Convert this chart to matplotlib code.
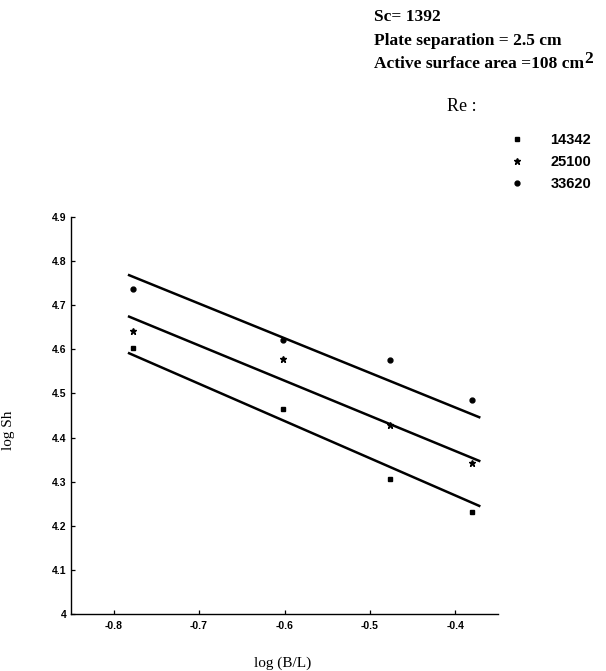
#!/usr/bin/env python

import numpy as np
import matplotlib.pyplot as plt

# log(B/L) positions of the measurements
log_bl = [-0.778, -0.602, -0.477, -0.380]

# log Sh for each Reynolds number
re_labels = ['14342', '25100', '33620']
sh_14342 = [4.602, 4.464, 4.305, 4.232]
sh_25100 = [4.642, 4.577, 4.429, 4.343]
sh_33620 = [4.736, 4.620, 4.575, 4.486]

# fitted lines (end points)
fit_x = [-0.782, -0.372]
fit_14342 = [4.591, 4.245]
fit_25100 = [4.674, 4.347]
fit_33620 = [4.768, 4.446]

x_ticks = [-0.8, -0.7, -0.6, -0.5, -0.4]
y_ticks = [4.0, 4.1, 4.2, 4.3, 4.4, 4.5, 4.6, 4.7, 4.8, 4.9]
y_tick_labels = ['4', '4.1', '4.2', '4.3', '4.4', '4.5', '4.6', '4.7', '4.8', '4.9']

serif = 'Liberation Serif'
sans = 'Liberation Sans'

fig = plt.figure(figsize=(6.06, 6.71), dpi=100)
ax = fig.add_axes([0.1172, 0.085, 0.7046, 0.5917])

ax.plot(log_bl, sh_14342, 's', color='black', markersize=3.5, label=re_labels[0])
ax.plot(log_bl, sh_25100, '*', color='black', markersize=4.5, label=re_labels[1])
ax.plot(log_bl, sh_33620, 'o', color='black', markersize=3.5, label=re_labels[2])

for fy in [fit_14342, fit_25100, fit_33620]:
	ax.plot(fit_x, fy, '-', color='black', linewidth=1.8)

ax.set_xlim(-0.85, -0.35)
ax.set_ylim(4.0, 4.9)
ax.set_xticks(x_ticks)
ax.set_xticklabels([str(v) for v in x_ticks])
ax.set_yticks(y_ticks)
ax.set_yticklabels(y_tick_labels)

ax.spines['top'].set_visible(False)
ax.spines['right'].set_visible(False)
ax.spines['left'].set_linewidth(1.0)
ax.spines['bottom'].set_linewidth(1.0)
ax.tick_params(direction='in', length=3, width=0.9, pad=3)
ax.tick_params(axis='x', pad=5)
for lab in ax.get_xticklabels() + ax.get_yticklabels():
	lab.set_fontfamily(sans)
	lab.set_fontweight('bold')
	lab.set_fontsize(7.5)

ax.set_xlabel('log (B/L)', fontfamily=serif, fontsize=11)
ax.set_ylabel('log Sh', fontfamily=serif, fontsize=11)
ax.xaxis.set_label_coords(0.496, -0.108)
ax.yaxis.set_label_coords(-0.131, 0.463)

# header text
fig.text(0.617, 0.975, 'Sc= 1392', fontfamily=serif, fontweight='bold', fontsize=12.5, va='center')
fig.text(0.617, 0.939, 'Plate separation = 2.5 cm', fontfamily=serif, fontweight='bold', fontsize=12.5, va='center')
t = fig.text(0.617, 0.905, 'Active surface area =108 cm', fontfamily=serif, fontweight='bold', fontsize=12.5, va='center')
plt.annotate('2', xy=(1.0, 0.3), xycoords=t, fontfamily=serif, fontweight='bold', fontsize=12.5, va='bottom', ha='left')
fig.text(0.762, 0.841, 'Re :', fontfamily=serif, fontsize=13, ha='center', va='center')

leg = ax.legend(loc='upper left', bbox_to_anchor=(0.8416, 0.802), bbox_transform=fig.transFigure,
	frameon=False, handlelength=1.0, handletextpad=1.76, labelspacing=0.54, borderpad=0,
	borderaxespad=0, prop={'family': sans, 'weight': 'bold', 'size': 10.5})

fig.savefig('out.png', dpi=100)
